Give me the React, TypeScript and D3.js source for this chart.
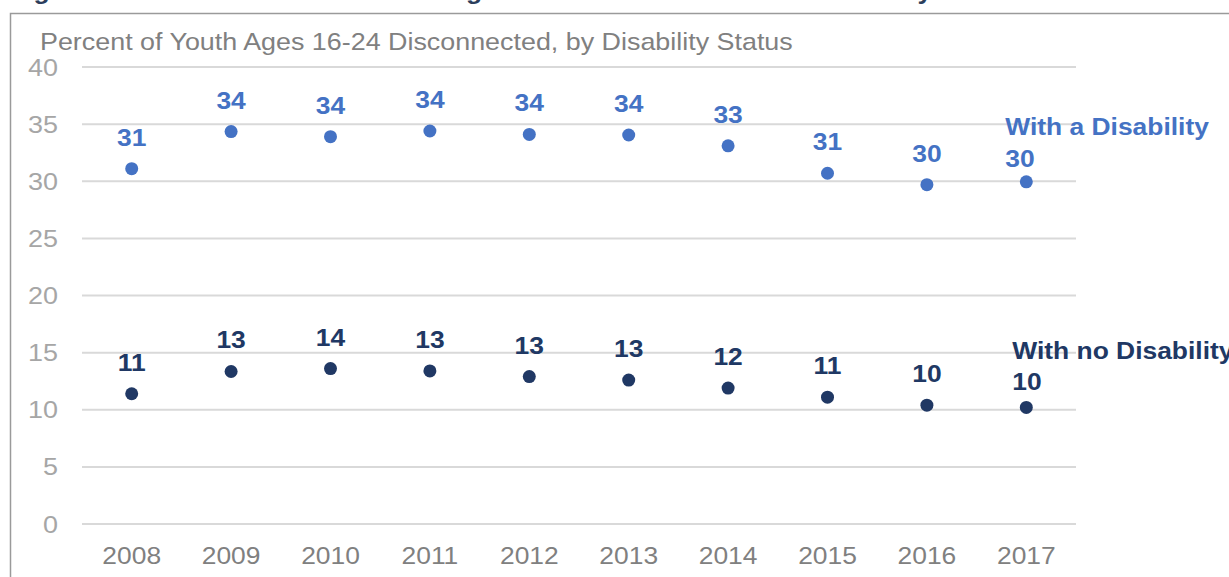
import React from "react";
import * as d3 from "d3";

const years = ["2008", "2009", "2010", "2011", "2012", "2013", "2014", "2015", "2016", "2017"];
const withDisability = [31.1, 34.35, 33.9, 34.4, 34.1, 34.05, 33.1, 30.7, 29.7, 29.95];
const withoutDisability = [11.4, 13.35, 13.6, 13.4, 12.9, 12.6, 11.9, 11.1, 10.4, 10.2];
const yTicks = [0, 5, 10, 15, 20, 25, 30, 35, 40];
const seriesNames = ["With a Disability", "With no Disability"];
const chartTitle = "Figure 3. Disconnection Rates among Youth With and Without a Disability";
const axisTitle = "Percent of Youth Ages 16-24 Disconnected, by Disability Status";

const W = 1229;
const H = 577;
const FONT = "'Liberation Sans', Arial, sans-serif";

type TProps = {
  x: number;
  y: number;
  sx?: number;
  anchor?: "start" | "middle" | "end";
  size: number;
  bold?: boolean;
  fill: string;
  dy?: string;
  children: React.ReactNode;
};

function T({ x, y, sx = 1.1, anchor = "start", size, bold, fill, dy, children }: TProps) {
  return (
    <g transform={`translate(${x},${y}) scale(${sx},1)`}>
      <text x={0} y={0} dy={dy} textAnchor={anchor} fontSize={size} fontWeight={bold ? "bold" : "normal"} fill={fill}>
        {children}
      </text>
    </g>
  );
}

export default function App() {
  const x = d3.scaleBand<string>().domain(years).range([82, 1076]);
  const y = d3.scaleLinear().domain([0, 40]).range([524, 67]);
  const cx = (yr: string) => (x(yr) as number) + x.bandwidth() / 2;

  const series = [
    { name: seriesNames[0], values: withDisability, color: "#4472C4", nameDy: -47, lastDy: -15, lastDx: -21 },
    { name: seriesNames[1], values: withoutDisability, color: "#203864", nameDy: -48, lastDy: -17, lastDx: -14 },
  ];

  return (
    <svg width={W} height={H} style={{ position: "absolute", left: 0, top: 0, background: "#fff" }} fontFamily={FONT}>
      <rect x={0} y={0} width={W} height={H} fill="#fff" />
      {/* figure title, cut off at the top edge as in the reference */}
      <T x={10} y={-1.5} size={24} bold fill="#2c3e5c">{chartTitle}</T>
      {/* frame */}
      <path d={`M10.5,${H} L10.5,13.5 L${W},13.5`} fill="none" stroke="#9a9a9a" strokeWidth={1.5} />
      {/* axis title */}
      <T x={40} y={50} sx={1.12} size={24} fill="#808080">{axisTitle}</T>
      {/* gridlines */}
      {yTicks.map((t) => (
        <line key={t} x1={82} x2={1076} y1={y(t)} y2={y(t)} stroke="#d9d9d9" strokeWidth={2} />
      ))}
      {/* y tick labels */}
      {yTicks.map((t) => (
        <T key={"yl" + t} x={58} y={y(t)} dy="0.35em" anchor="end" size={24.5} fill="#a6a6a6">{t}</T>
      ))}
      {/* x tick labels */}
      {years.map((yr) => (
        <T key={"xl" + yr} x={cx(yr)} y={564} anchor="middle" size={24} fill="#808080">{yr}</T>
      ))}
      {/* series */}
      {series.map((s) => (
        <g key={s.name}>
          {s.values.map((v, i) => {
            const px = cx(years[i]);
            const py = y(v);
            const last = i === s.values.length - 1;
            return (
              <g key={i}>
                <circle cx={px} cy={py} r={6.5} fill={s.color} />
                {last ? (
                  <>
                    <T x={px + s.lastDx} y={py + s.nameDy} size={24} bold fill={s.color}>{s.name}</T>
                    <T x={px + s.lastDx} y={py + s.lastDy} size={24} bold fill={s.color}>{Math.round(v)}</T>
                  </>
                ) : (
                  <T x={px} y={py - 23} anchor="middle" size={24} bold fill={s.color}>{Math.round(v)}</T>
                )}
              </g>
            );
          })}
        </g>
      ))}
    </svg>
  );
}
